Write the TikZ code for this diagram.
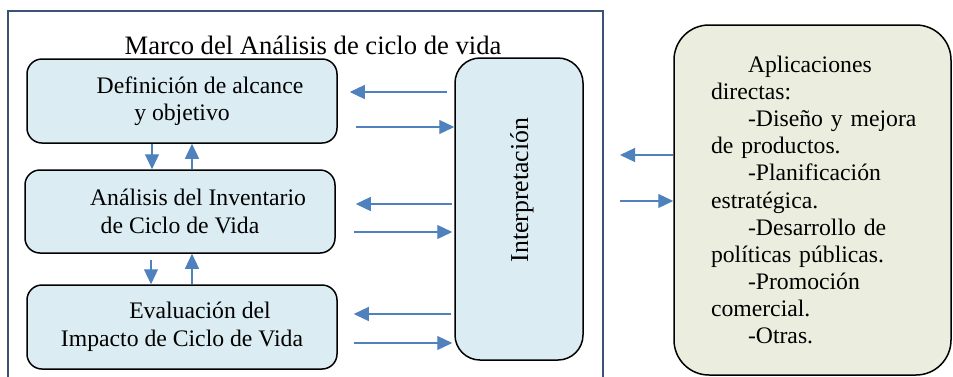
\documentclass[tikz,border=0pt]{standalone}
\usepackage{fontspec}
\setmainfont{Liberation Serif}
\usepackage{xcolor}
\usepackage{tikz}
\usetikzlibrary{calc,positioning,arrows.meta}
\definecolor{framecol}{HTML}{3B5274}
\definecolor{stagefill}{HTML}{DBEDF3}
\definecolor{appfill}{HTML}{EBEEDE}
\definecolor{flowblue}{HTML}{4F81BD}

\begin{document}
\begin{tikzpicture}[
  x=1pt, y=-1pt,
  stagebox/.style={
    draw, line width=1.5pt, rounded corners=15pt,
    fill=stagefill, inner sep=0pt, align=center,
    minimum width=310pt, minimum height=84pt,
    font=\fontsize{23.7}{27.5}\selectfont,
  },
  flow/.style={
    draw=flowblue, line width=1.2pt,
    -{Triangle[length=15pt,width=14pt]},
  },
  bigtext/.style={font=\fontsize{26.6}{30}\selectfont, inner sep=0pt},
]
\useasboundingbox (0,0) rectangle (953,376);

% Frame
\draw[framecol, line width=2pt] (8,377) |- (603,11) -- (603,377);
\node[bigtext] (title) at (313,45) {Marco del Análisis de ciclo de vida};

% Stages
\node[stagebox] (def) at (182,101) {\hspace*{36pt}Definición de alcance\\y objetivo};
\node[stagebox, minimum height=83pt] (inv) at (180,211.5) {\hspace*{36pt}Análisis del Inventario\\de Ciclo de Vida};
\node[stagebox] (eval) at (182,327) {\hspace*{36pt}Evaluación del\\Impacto de Ciclo de Vida};

% Interpretation
\node[stagebox, rounded corners=25pt, minimum width=128pt, minimum height=302pt] (interp) at (519,209) {};
\node[bigtext, font=\fontsize{25.8}{30}\selectfont, rotate=90] (interplabel) at (522,190) {Interpretación};

% Applications
\node[draw, line width=1.5pt, rounded corners=35pt, fill=appfill,
  minimum width=277pt, minimum height=350pt, inner xsep=37pt, inner ysep=0pt,
  text width=203pt, align=left, font=\fontsize{23.7}{27.1}\selectfont] (apps) at (812.5,200)
  {\mbox{\hspace*{37pt}Aplicaciones}\\\mbox{directas:}\\
   \mbox{\hspace*{37pt}-Diseño y mejora}\\\mbox{de productos.}\\
   \mbox{\hspace*{37pt}-Planificación}\\\mbox{estratégica.}\\
   \mbox{\hspace*{37pt}-Desarrollo de}\\\mbox{políticas públicas.}\\
   \mbox{\hspace*{37pt}-Promoción}\\\mbox{comercial.}\\
   \mbox{\hspace*{37pt}-Otras.}};
\coordinate (appsgap) at (620,0);

% Vertical flows
\draw[flow] (def.south -| 152,0) -- (inv.north -| 152,0);
\draw[flow] (inv.north -| 192,0) -- (def.south -| 192,0);
\draw[flow, shorten <=6pt] (inv.south -| 151,0) -- (eval.north -| 151,0);
\draw[flow] (eval.north -| 192,0) -- (inv.south -| 192,0);

% Flows to and from interpretation
\draw[flow, shorten <=7pt, shorten >=12pt] (interp.west |- 0,92) -- (def.east |- 0,92);
\draw[flow, shorten <=18pt] (def.east |- 0,127) -- (interp.west |- 0,127);
\draw[flow, shorten <=2pt, shorten >=20pt] (interp.west |- 0,204) -- (inv.east |- 0,204);
\draw[flow, shorten <=18pt, shorten >=2pt] (inv.east |- 0,232) -- (interp.west |- 0,232);
\draw[flow, shorten <=3pt, shorten >=16pt] (interp.west |- 0,314) -- (eval.east |- 0,314);
\draw[flow, shorten <=16pt, shorten >=2pt] (eval.east |- 0,343) -- (interp.west |- 0,343);

% Flows to and from applications
\draw[flow] (apps.west |- 0,155) -- (appsgap |- 0,155);
\draw[flow] (appsgap |- 0,201) -- (apps.west |- 0,201);

\end{tikzpicture}
\end{document}
